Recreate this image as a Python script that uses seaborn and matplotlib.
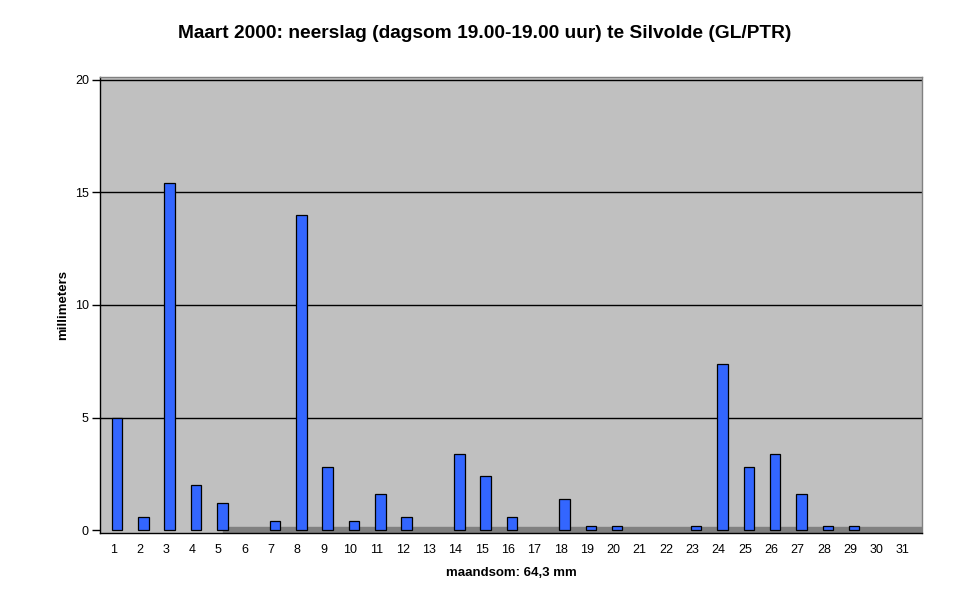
import matplotlib
matplotlib.use("Agg")
import matplotlib.pyplot as plt
import seaborn as sns
import pandas as pd

# neerslag per dag, maart 2000 (mm)
dagen = [str(d) for d in range(1, 32)]
neerslag = [5.0, 0.6, 15.4, 2.0, 1.2, 0.0, 0.4, 14.0, 2.8, 0.4,
            1.6, 0.6, 0.0, 3.4, 2.4, 0.6, 0.0, 1.4, 0.2, 0.2,
            0.0, 0.0, 0.2, 7.4, 2.8, 3.4, 1.6, 0.2, 0.2, 0.0, 0.0]
yticks = [0, 5, 10, 15, 20]

df = pd.DataFrame({"dag": dagen, "mm": neerslag})

sns.set_style("white")
plt.rcParams["font.family"] = ["Liberation Sans", "DejaVu Sans"]
plt.rcParams["text.color"] = "black"
plt.rcParams["axes.labelcolor"] = "black"
plt.rcParams["xtick.color"] = "black"
plt.rcParams["ytick.color"] = "black"

fig = plt.figure(figsize=(9.7, 6.04), dpi=100)
ax = fig.add_axes([100 / 970, 1 - 533 / 604, 822 / 970, 456 / 604])
ax.set_facecolor("#C0C0C0")

# vloer
ax.axhspan(-0.13, 0.13, color="#808080", zorder=1)
for y in yticks[1:]:
    ax.axhline(y, color="black", lw=1, zorder=1)

sns.barplot(data=df, x="dag", y="mm", color="#3366FF", width=0.4,
            edgecolor="black", linewidth=0.9, saturation=1, ax=ax, zorder=3)
for p in ax.patches:
    p.set_x(p.get_x() + 0.15)
    if p.get_height() == 0:
        p.set_visible(False)

ax.set_ylim(-0.13, 20.13)
ax.set_xlim(-0.5, 30.73)
ax.set_yticks(yticks)
ax.set_yticklabels([str(v) for v in yticks], fontsize=9)
ax.set_xticks(range(31))
ax.set_xticklabels(dagen, fontsize=9)
ax.set_xticks([i - 0.5 for i in range(32)], minor=True)
ax.tick_params(axis="x", which="major", length=0, pad=8)
ax.tick_params(axis="x", which="minor", length=6, width=1, color="black", direction="out")
ax.tick_params(axis="y", length=6, width=1, color="black", direction="out", left=True, pad=2)

for s in ["left", "bottom"]:
    ax.spines[s].set_color("black")
    ax.spines[s].set_linewidth(1)
for s in ["top", "right"]:
    ax.spines[s].set_color("#808080")
    ax.spines[s].set_linewidth(1)

ax.set_xlabel("maandsom: 64,3 mm", fontsize=9.5, fontweight="bold", labelpad=8)
ax.set_ylabel("millimeters", fontsize=9.5, fontweight="bold", labelpad=4)
fig.suptitle("Maart 2000: neerslag (dagsom 19.00-19.00 uur) te Silvolde (GL/PTR)",
             fontsize=13.8, fontweight="bold", y=1 - 33 / 604, va="center", x=0.5)

fig.savefig("out.png", dpi=100, facecolor="white")
